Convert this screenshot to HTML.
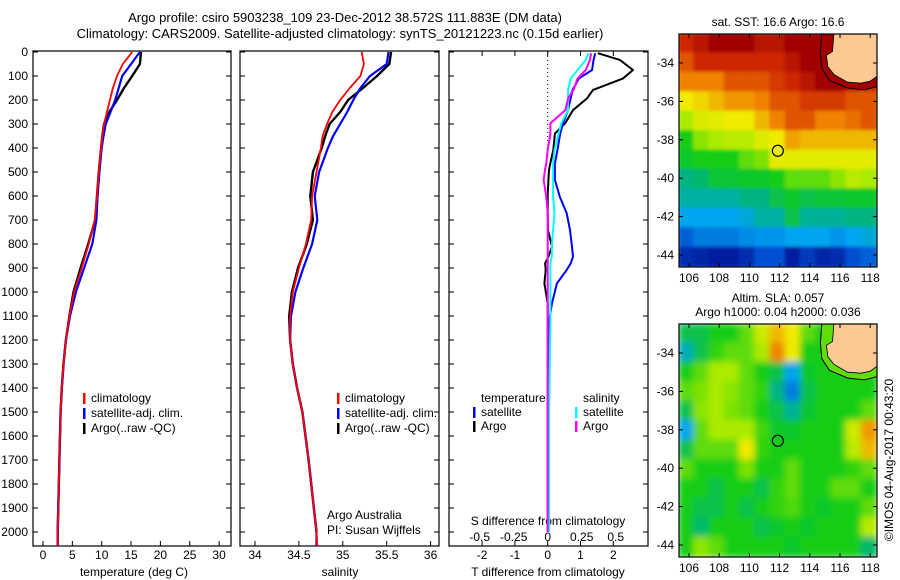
<!DOCTYPE html>
<html><head><meta charset="utf-8">
<style>
html,body{margin:0;padding:0;background:#fff;}
svg{display:block;font-family:"Liberation Sans",sans-serif;}
text{fill:#000;}
</style></head>
<body>
<svg id="fig" width="900" height="580" viewBox="0 0 900 580" xmlns="http://www.w3.org/2000/svg">
<defs>
<clipPath id="clipSST"><rect x="679" y="34" width="198" height="233"/></clipPath>
<clipPath id="clipSLA"><rect x="679" y="324" width="198" height="233"/></clipPath>
<clipPath id="clipP1"><rect x="33" y="51" width="198" height="495"/></clipPath>
<clipPath id="clipP2"><rect x="240" y="51" width="199" height="495"/></clipPath>
<clipPath id="clipP3"><rect x="449" y="51" width="199" height="495"/></clipPath>
<filter id="blurS" x="-5%" y="-5%" width="110%" height="110%"><feGaussianBlur stdDeviation="1.5"/></filter>
<filter id="blurA" x="-5%" y="-5%" width="110%" height="110%"><feGaussianBlur stdDeviation="3.5"/></filter>
</defs>
<text x="345" y="22" font-size="13" text-anchor="middle">Argo profile: csiro 5903238_109 23-Dec-2012 38.572S 111.883E (DM data)</text>
<text x="340" y="38" font-size="13" text-anchor="middle">Climatology: CARS2009. Satellite-adjusted climatology: synTS_20121223.nc (0.15d earlier)</text>
<g id="plots"></g>
</svg>
<script>
// ---------------- DATA ----------------
const depths = [0,50,100,150,200,250,300,350,400,500,600,700,800,900,1000,1100,1200,1300,1400,1500,1700,2000,2060];
const tempClim = [15.2,13.6,12.6,11.9,11.4,10.9,10.4,10.1,9.9,9.5,9.2,8.8,7.8,6.6,5.3,4.5,3.9,3.5,3.2,3.0,2.8,2.5,2.5];
const tempSat  = [16.5,15.0,13.5,12.9,12.3,11.5,10.7,10.3,10.0,9.6,9.3,9.1,8.4,7.0,5.6,4.6,3.9,3.5,3.2,3.0,2.8,2.5,2.5];
const tempArgo = [16.7,16.5,15.2,13.8,12.6,11.3,10.4,10.1,9.9,9.5,9.2,8.9,7.7,6.4,5.2,4.5,3.9,3.5,3.2,3.0,2.8,2.5,2.5];
const salClim = [35.215,35.24,35.2,35.08,34.97,34.88,34.82,34.77,34.75,34.7,34.65,34.64,34.58,34.5,34.43,34.4,34.4,34.43,34.48,34.54,34.61,34.7,34.71];
const salSat  = [35.52,35.5,35.31,35.2,35.12,35.05,34.97,34.89,34.83,34.73,34.68,34.71,34.65,34.55,34.46,34.41,34.4,34.43,34.48,34.54,34.61,34.7,34.7];
const salArgo = [35.55,35.53,35.39,35.23,35.06,34.97,34.85,34.8,34.76,34.66,34.63,34.66,34.59,34.49,34.42,34.39,34.4,34.43,34.48,34.54,34.61,34.7];
const diffDepths = [5,33,75,110,158,193,242,297,340,408,464,492,533,603,672,742,811,853,881,908,964,1047,1117,1500,2000];
const dTArgo = [1.53,2.2,2.6,2.3,1.38,1.2,0.77,0.53,0.22,0.17,0.08,0.04,0.02,0,0,0.01,0.13,0.02,-0.08,-0.06,-0.1,0,0,0,0];
const dTSat  = [1.45,1.4,1.35,0.95,0.76,0.7,0.62,0.47,0.38,0.3,0.22,0.22,0.22,0.37,0.58,0.68,0.74,0.77,0.7,0.58,0.28,0.13,0.05,0.03,0.03];
const dSSat  = [0.30,0.28,0.22,0.17,0.15,0.15,0.15,0.1,0.08,0.05,0.04,0.04,0.04,0.04,0.05,0.04,0.03,0.03,0.02,0.02,0.02,0.02,0.02,0.01,0.01];
const dSArgo = [0.32,0.31,0.28,0.22,0.19,0.15,0.13,0.02,0.02,0.0,-0.01,-0.02,-0.03,-0.01,0,0,0,0,0,0,0,0,0,0,0];
const depthTicks = [0,100,200,300,400,500,600,700,800,900,1000,1100,1200,1300,1400,1500,1600,1700,1800,1900,2000];
const tempTicks = [0,5,10,15,20,25,30];
const salTicks = [34,34.5,35,35.5,36];
const salTickLabels = ['34','34.5','35','35.5','36'];
const dTTicks = [-2,-1,0,1,2];
const dSTicks = [-0.5,-0.25,0,0.25,0.5];
const dSTickLabels = ['-0.5','-0.25','0','0.25','0.5'];
const lonTicks = [106,108,110,112,114,116,118];
const latTicks = [-34,-36,-38,-40,-42,-44];
const argoLon = 111.883, argoLat = -38.572;
// colour index grids (0 dark red ... 9 dark blue, -1 land)
const sstGrid = [
 [1,0.5,0,0,0,0.5,0.5,0,0,0,-1,-1,-1],
 [1.5,1,1,1,1,1,1,0.5,0,0,0,-1,-1],
 [2,2,2,1.5,1.5,1.5,1.2,1,0.5,0,0,0.5,1],
 [3,2.8,2.5,2.2,2.2,2,1.5,1.5,1.2,1.2,1.2,1.5,1.5],
 [4,3.3,3.2,3,3,2.5,2,1.5,1.5,2,2,1.8,1.5],
 [5,4.2,4,3.8,3.8,3.3,3,2.3,2.5,2.5,2.5,2.5,2.5],
 [5.2,5,5,5,4.5,4.3,3.2,3.2,3.2,3.2,3.2,3.2,3.2],
 [6,5.8,5.3,5.3,5.2,5.2,5,4.5,4.5,4.5,4.2,3.8,4],
 [6.3,6.3,6.3,6.3,6,6,5.5,5.2,5.5,5.3,5.3,5.2,5.2],
 [7,7,7,7,6.8,6.3,6.3,5.5,6.2,6.2,6.2,6,6],
 [7.8,7.5,7.5,7.5,7.3,7.2,7.2,7,7,7,7.2,7,6.8],
 [8.5,8.6,8.7,8.7,8.5,8,8,8.7,8.3,8.6,8.5,8,7.8]
];
const slaGrid = [
 [5.5,5.5,5,5,4.5,3.5,2.5,3,4.5,5,5,-1,-1],
 [6.5,5.5,4.8,4.5,4.5,4,2,3,5,5,5.5,-1,-1],
 [5,4.5,4,4,4.5,5,5.5,7,5.2,5,5,5,5],
 [4.5,4.3,4,4.2,4.5,4.8,6,7.5,5.5,5,5,5,5],
 [5.5,4.2,4,4.3,4.5,5,5.5,6.2,5.3,5,5,5,4.5],
 [7,4.5,4,4,4,4.7,5.2,5.2,5,5,5,3.5,2.2],
 [5.5,4.5,4.5,4.5,3,4.8,5,5,5,5,5,3.8,2.5],
 [4.5,5,5,5,4.3,5,5,4.5,5,5,5,4.8,4.5],
 [5,5,5.5,5,5,5.5,4.8,4.5,5,5,4.5,4.5,5],
 [5,5.5,5.5,5,5.5,5,4.8,4.6,5,5.2,5,5,4.5],
 [5,5.8,5,5,5,5.5,5.2,5,5.2,5,5,5,3.8],
 [5,4.2,4.5,5,5,5,5,5.2,5,5,5,5,5.8]
];
// ---------------- HELPERS ----------------
const NS='http://www.w3.org/2000/svg';
const root=document.getElementById('plots');
function mk(tag,attrs,parent){const e=document.createElementNS(NS,tag);for(const k in attrs)e.setAttribute(k,attrs[k]);(parent||root).appendChild(e);return e;}
function txt(s,x,y,anchor,size,parent){const t=mk('text',{x:x,y:y,'text-anchor':anchor||'start','font-size':size||12},parent);t.textContent=s;return t;}
const yD = d => 52 + d*0.2400;
const xT = t => 43 + t*5.87;
const xS = s => 255 + (s-34)*87.8;
const xDT = v => 547.7 + v*32.8;
const xDS = v => 547.7 + v*136;
const cmap=[[160,0,0],[205,40,0],[240,130,0],[240,235,0],[170,235,0],[20,205,20],[0,180,130],[0,165,240],[0,80,210],[0,10,140],[0,0,120]];
function col(v){const i=Math.max(0,Math.min(9.999,v));const a=Math.floor(i),f=i-a;const c0=cmap[a],c1=cmap[a+1];return 'rgb('+c0.map((c,k)=>Math.round(c+(c1[k]-c)*f)).join(',')+')';}
function stepPath(vals,ds,xf){let p='';for(let i=0;i<vals.length;i++){const x=xf(vals[i]).toFixed(1),y=yD(ds[i]).toFixed(1);p+=(i?'L':'M')+x+','+y;}return p;}

// ---------------- PROFILE PANELS ----------------
function panel(name){
  const g=mk('g',{});
  
  
  return g;
}
function frame(g,x0,x1){
  const r=mk('rect',{x:x0,y:51,width:x1-x0,height:495,fill:'none',stroke:'#000','stroke-width':1.2},g);
  
  
  depthTicks.forEach(d=>{mk('line',{x1:x0,x2:x0+5,y1:yD(d),y2:yD(d),stroke:'#000'},g);mk('line',{x1:x1-5,x2:x1,y1:yD(d),y2:yD(d),stroke:'#000'},g);});
}
function series(g,name,vals,ds,xf,color,w,clip){
  const p=mk('path',{d:stepPath(vals,ds,xf),fill:'none',stroke:color,'stroke-width':w,'clip-path':'url(#'+clip+')','stroke-linejoin':'round'},g);
  
  
}
function legendEntry(g,label,x,y,color){
  const e=mk('g',{},g);
  
  
  mk('rect',{x:x,y:y-9,width:2.5,height:11,fill:color},e);
  txt(label,x+8,y,'start',12,e);
}
// Panel 1 temperature
const p1=panel('temperature-panel');
frame(p1,33,231);
depthTicks.forEach(d=>{const t=txt(String(d),28,yD(d)+4,'end',12,p1);});
tempTicks.forEach(v=>{mk('line',{x1:xT(v),x2:xT(v),y1:546,y2:541,stroke:'#000'},p1);txt(String(v),xT(v),559,'middle',12,p1);});
const xl1=txt('temperature (deg C)',134,576,'middle',12,p1);
series(p1,'temp-argo-line',tempArgo,depths,xT,'#000',2.4,'clipP1');
series(p1,'temp-sat-line',tempSat,depths,xT,'#0000ff',2.2,'clipP1');
series(p1,'temp-clim-line',tempClim,depths,xT,'#ff0000',1.8,'clipP1');
legendEntry(p1,'climatology',83,402,'#ff0000');
legendEntry(p1,'satellite-adj. clim.',83,417,'#0000ff');
legendEntry(p1,'Argo(..raw -QC)',83,432,'#000');
// Panel 2 salinity
const p2=panel('salinity-panel');
frame(p2,240,439);
salTicks.forEach((v,i)=>{mk('line',{x1:xS(v),x2:xS(v),y1:546,y2:541,stroke:'#000'},p2);txt(salTickLabels[i],xS(v),559,'middle',12,p2);});
const xl2=txt('salinity',340,576,'middle',12,p2);
series(p2,'sal-argo-line',salArgo,depths.slice(0,salArgo.length),xS,'#000',2.4,'clipP2');
series(p2,'sal-sat-line',salSat,depths,xS,'#0000ff',2.2,'clipP2');
series(p2,'sal-clim-line',salClim,depths,xS,'#ff0000',1.8,'clipP2');
legendEntry(p2,'climatology',337,402,'#ff0000');
legendEntry(p2,'satellite-adj. clim.',337,417,'#0000ff');
legendEntry(p2,'Argo(..raw -QC)',337,432,'#000');
const cr=txt('Argo Australia',327,519,'start',12,p2);
txt('PI: Susan Wijffels',327,534,'start',12,p2);
// Panel 3 differences
const p3=panel('difference-panel');
frame(p3,449,648);
dTTicks.forEach(v=>{mk('line',{x1:xDT(v),x2:xDT(v),y1:546,y2:541,stroke:'#000'},p3);mk('line',{x1:xDT(v),x2:xDT(v),y1:51,y2:56,stroke:'#000'},p3);txt(String(v),xDT(v),559,'middle',12,p3);});
mk('line',{x1:xDT(0),x2:xDT(0),y1:52,y2:160,stroke:'#000','stroke-dasharray':'1,3'},p3);
dSTicks.forEach((v,i)=>{txt(dSTickLabels[i],xDS(v),541,'middle',12,p3);});
txt('S difference from climatology',548,525,'middle',12,p3);
const xl3=txt('T difference from climatology',548,576,'middle',12,p3);
series(p3,'dT-argo-line',dTArgo,diffDepths,xDT,'#000',2,'clipP3');
series(p3,'dT-sat-line',dTSat,diffDepths,xDT,'#0000ff',2,'clipP3');
series(p3,'dS-sat-line',dSSat,diffDepths,xDS,'#00ffff',2,'clipP3');
series(p3,'dS-argo-line',dSArgo,diffDepths,xDS,'#ff00ff',2,'clipP3');
txt('temperature',481,402,'start',12,p3);
txt('salinity',583,402,'start',12,p3);
legendEntry(p3,'satellite',473,416,'#0000ff');
legendEntry(p3,'Argo',473,430,'#000');
legendEntry(p3,'satellite',575,416,'#00ffff');
legendEntry(p3,'Argo',575,430,'#ff00ff');

// ---------------- MAPS ----------------
function mapPanel(name,top,grid,filt,clip,titleLines,landBand){
  const g=mk('g',{});
  
  
  const x0=679,x1=877,y0=top,y1=top+233;
  const xL = lon => 689 + (lon-106)*15.1;
  const yL = lat => top+29 + (-34-lat)*19.2;
  const rows=grid.length,cols=grid[0].length,cw=(x1-x0)/cols,ch=(y1-y0)/rows;
  const hg=mk('g',{'clip-path':'url(#'+clip+')'},g);
  const inner=mk('g',{filter:'url(#'+filt+')'},hg);
  grid.forEach((row,r)=>row.forEach((v,c)=>{
    const cell=mk('rect',{x:(x0+c*cw-1).toFixed(1),y:(y0+r*ch-1).toFixed(1),width:(cw+2).toFixed(1),height:(ch+2).toFixed(1),fill:v<0?col(landBand):col(v)},inner);
    
    
  }));
  const band=[[114.8,-32.4],[114.7,-33.5],[114.8,-34.3],[115.3,-34.9],[116.5,-35.3],[117.6,-35.4],[118.6,-35.2],[118.6,-32.4]];
  mk('path',{d:'M'+band.map(p=>xL(p[0]).toFixed(1)+','+yL(p[1]).toFixed(1)).join('L')+'Z',fill:col(landBand),stroke:'#000','stroke-width':1},hg);
  const land=[[115.6,-32.4],[115.5,-33.4],[115.1,-33.6],[115.2,-34.2],[115.6,-34.6],[116.5,-35.0],[117.4,-35.05],[118.0,-34.95],[118.6,-34.6],[118.6,-32.4]];
  const lp=mk('path',{d:'M'+land.map(p=>xL(p[0]).toFixed(1)+','+yL(p[1]).toFixed(1)).join('L')+'Z',fill:'#fcc993',stroke:'#000','stroke-width':0.8},hg);
  
  
  const mk1=mk('circle',{cx:xL(argoLon),cy:yL(argoLat),r:5.5,fill:'none',stroke:'#000','stroke-width':1.2},g);
  
  
  mk('rect',{x:x0,y:y0,width:x1-x0,height:y1-y0,fill:'none',stroke:'#000','stroke-width':1.2},g);
  lonTicks.forEach(v=>{mk('line',{x1:xL(v),x2:xL(v),y1:y1,y2:y1-4,stroke:'#000'},g);mk('line',{x1:xL(v),x2:xL(v),y1:y0,y2:y0+4,stroke:'#000'},g);txt(String(v),xL(v),y1+15,'middle',12,g);});
  latTicks.forEach(v=>{mk('line',{x1:x0,x2:x0+4,y1:yL(v),y2:yL(v),stroke:'#000'},g);mk('line',{x1:x1,x2:x1-4,y1:yL(v),y2:yL(v),stroke:'#000'},g);txt(String(v),674,yL(v)+4,'end',12,g);});
  titleLines.forEach((s,i)=>{const t=txt(s,778,top-(titleLines.length-i)*14+6,'middle',12,g);});
}
mapPanel('sst-map',34,sstGrid,'blurS','clipSST',['sat. SST: 16.6 Argo: 16.6'],0);
mapPanel('sla-map',324,slaGrid,'blurA','clipSLA',['Altim. SLA: 0.057','Argo h1000: 0.04 h2000: 0.036'],4.5);
const imos=txt('©IMOS 04-Aug-2017 00:43:20',0,0,'middle',12);
imos.setAttribute('transform','translate(893,460) rotate(-90)');


</script>
</body></html>
